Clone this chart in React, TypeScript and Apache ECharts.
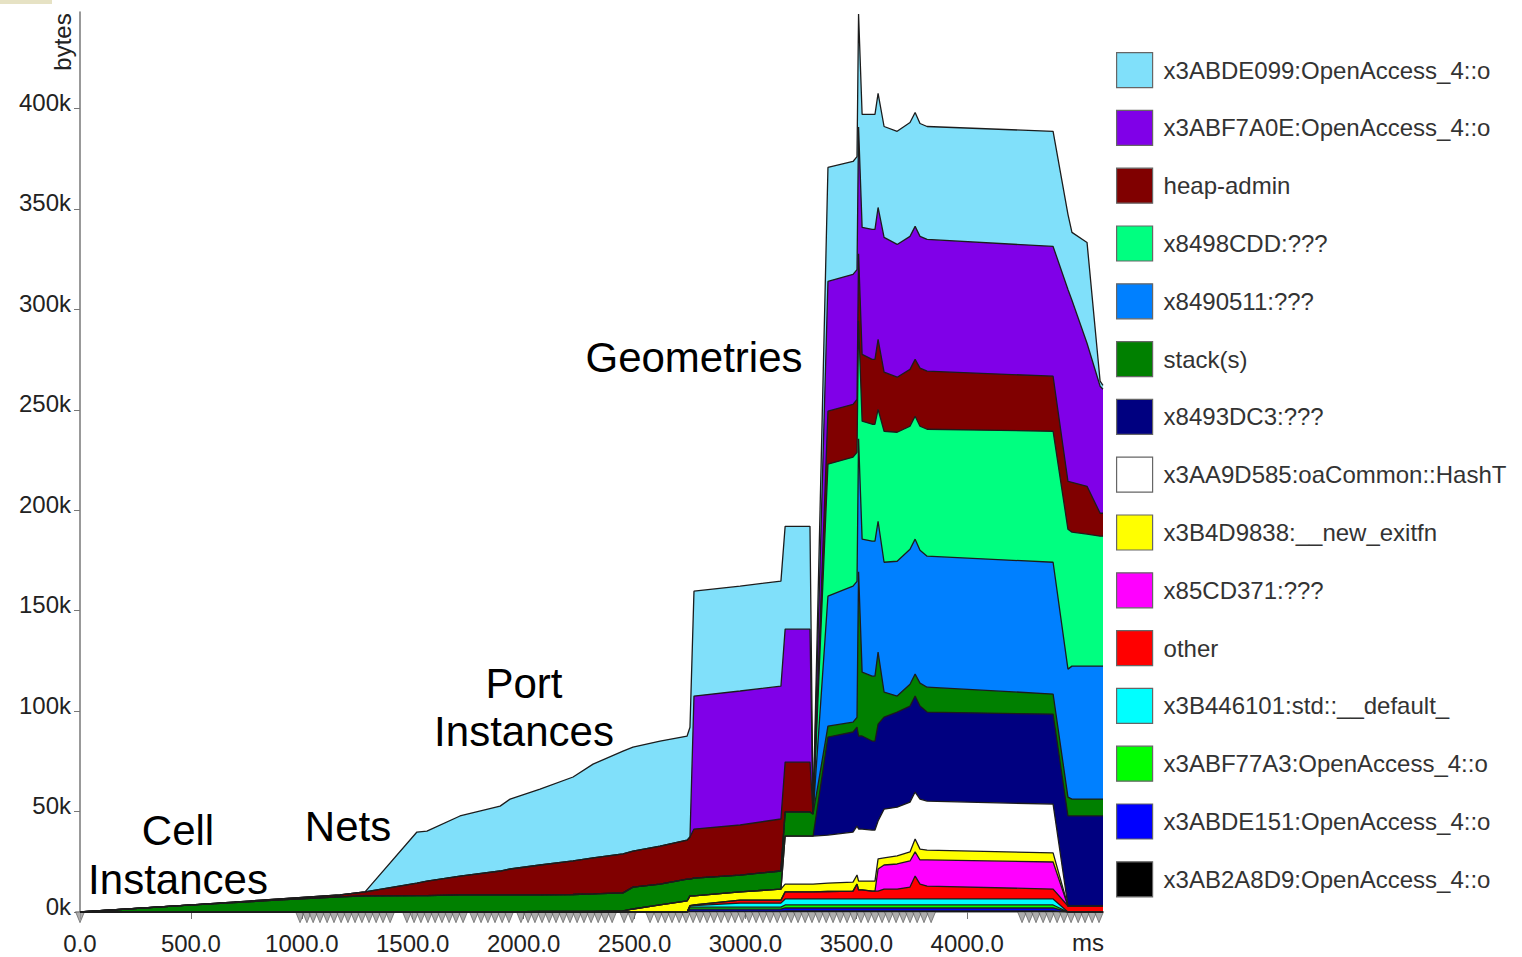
import React, { useEffect, useRef } from "react";
import * as echarts from "echarts";

// sample times (ms)
const times = [0, 451, 902, 1172, 1285, 1519, 1564, 1713, 1894, 1939, 2074, 2223, 2313, 2448, 2493, 2615, 2737, 2750, 2768, 2976, 3160, 3179, 3291, 3305, 3372, 3485, 3503, 3510, 3526, 3571, 3584, 3598, 3625, 3684, 3742, 3765, 3787, 3819, 4387, 4454, 4472, 4540, 4599, 4612];

// layer sizes (kbytes), bottom of the stack first
const v_x3AB2A8D9 = [0, 0, 0, 0, 0, 0, 0, 0, 0, 0, 0, 0, 0, 0, 0, 0, 0, 0.4, 0.4, 0.4, 0.4, 0.5, 0.5, 0.5, 0.5, 0.5, 0.5, 0.5, 0.5, 0.5, 0.5, 0.5, 0.5, 0.5, 0.5, 0.5, 0.5, 0.5, 0.5, 0, 0, 0, 0, 0];
const v_x3ABDE151 = [0, 0, 0, 0, 0, 0, 0, 0, 0, 0, 0, 0, 0, 0, 0, 0, 0, 1.0, 1.0, 1.0, 1.0, 1.5, 1.5, 1.5, 1.5, 1.5, 1.5, 1.5, 1.5, 1.5, 1.5, 1.5, 1.5, 1.5, 1.5, 1.5, 1.5, 1.5, 1.5, 0, 0, 0, 0, 0];
const v_x3ABF77A3 = [0, 0, 0, 0, 0, 0, 0, 0, 0, 0, 0, 0, 0, 0, 0, 0, 0, 1.0, 1.0, 1.0, 1.0, 1.5, 1.5, 1.5, 1.5, 1.5, 1.5, 1.5, 1.5, 1.5, 1.5, 1.5, 1.5, 1.5, 1.5, 1.5, 1.5, 1.5, 1.5, 0, 0, 0, 0, 0];
const v_x3B446101 = [0, 0, 0, 0, 0, 0, 0, 0, 0, 0, 0, 0, 0, 0, 0, 0, 0, 0.5, 0.8, 2.0, 2.0, 3.0, 3.0, 3.0, 3.0, 3.0, 3.0, 3.0, 3.0, 3.0, 3.0, 3.0, 3.0, 3.0, 3.0, 3.0, 3.0, 3.0, 3.0, 0, 0, 0, 0, 0];
const v_other = [0, 0, 0, 0, 0, 0, 0, 0, 0, 0, 0, 0, 0, 0, 0, 0, 0, 0.3, 0.3, 1.5, 1.5, 3.5, 3.5, 3.5, 3.7, 3.9, 7.4, 4.5, 4.5, 3.9, 3.9, 3.9, 4.9, 4.9, 5.9, 11.4, 7.4, 6.4, 4.9, 3.0, 3.0, 3.0, 3.0, 3.0];
const v_x85CD371 = [0, 0, 0, 0, 0, 0, 0, 0, 0, 0, 0, 0, 0, 0, 0, 0, 0, 0, 0, 0, 0, 0, 0, 0, 0, 0, 0, 0, 0, 0, 0, 11.0, 12.0, 12.5, 13.0, 12.0, 12.0, 13.0, 13.5, 0, 0, 0, 0, 0];
const v_x3B4D9838 = [0, 0, 0, 0, 0, 0, 0, 0, 0, 0, 0.25, 0.3, 0.3, 0.5, 1.5, 3.5, 5.5, 4.8, 4.5, 4.1, 5.5, 3.9, 3.9, 3.9, 4.2, 4.5, 4.5, 4.4, 4.4, 5.0, 5.0, 5.0, 3.5, 4.0, 4.5, 6.4, 5.4, 4.9, 4.5, 0, 0, 0, 0, 0];
const v_x3AA9D585 = [0, 0, 0, 0, 0, 0, 0, 0, 0, 0, 0, 0, 0, 0, 0, 0, 0, 0, 0, 0, 0, 23.9, 23.9, 23.9, 23.9, 24.9, 24.4, 25.9, 25.9, 25.4, 25.4, 18.9, 24.3, 24.3, 24.8, 23.4, 24.9, 24.4, 24.3, 0, 0, 0, 0, 0];
const v_x8493DC3 = [0, 0, 0, 0, 0, 0, 0, 0, 0, 0, 0, 0, 0, 0, 0, 0, 0, 0, 0, 0, 0, 0, 0, 0, 48.8, 49.8, 49.2, 46.3, 46.3, 44.3, 44.3, 48.2, 45.8, 47.3, 47.8, 47.8, 46.3, 44.3, 44.8, 44.8, 44.8, 44.8, 44.8, 44.8];
const v_stack = [0, 3.2, 6.0, 7.5, 8.0, 8.2, 8.2, 8.5, 8.5, 8.5, 8.25, 8.4, 8.7, 9.0, 10.9, 10.4, 10.9, 8.4, 8.9, 8.4, 9.0, 12.0, 12.0, 11.0, 5.4, 4.9, 4.9, 81.8, 31.8, 32.3, 32.3, 35.9, 12.5, 8.0, 10.9, 10.9, 11.4, 12.4, 10.0, 9.4, 8.4, 8.4, 8.4, 8.4];
const v_x8490511 = [0, 0, 0, 0, 0, 0, 0, 0, 0, 0, 0, 0, 0, 0, 0, 0, 0, 0, 0, 0, 0, 0, 0, 0, 64.7, 67.7, 67.7, 66.2, 66.2, 67.2, 67.2, 65.1, 64.6, 67.1, 67.2, 67.2, 66.2, 65.2, 65.6, 63.7, 66.2, 66.2, 66.2, 66.2];
const v_x8498CDD = [0, 0, 0, 0, 0, 0, 0, 0, 0, 0, 0, 0, 0, 0, 0, 0, 0, 0, 0, 0, 0, 0, 0, 0, 65.7, 64.2, 64.2, 58.7, 58.7, 58.2, 58.2, 55.7, 65.2, 64.2, 61.2, 61.2, 61.7, 63.2, 65.2, 69.6, 66.7, 65.7, 64.7, 64.7];
const v_heapAdmin = [0, 0, 0.5, 1.0, 2.0, 6.2, 7.2, 9.4, 11.9, 12.9, 14.9, 16.7, 17.9, 19.4, 17.9, 18.9, 19.4, 20.9, 24.4, 24.9, 25.9, 24.8, 24.8, 0.3, 26.4, 26.3, 26.3, 33.3, 33.3, 32.3, 32.3, 34.9, 29.4, 27.4, 28.3, 28.3, 28.9, 28.9, 27.4, 23.9, 24.8, 23.8, 11.4, 11.4];
const v_x3ABF7A0E = [0, 0, 0, 0, 0, 0, 0, 0, 0, 0, 0, 0, 0, 0, 0, 0, 0, 0, 66.2, 66.7, 66.1, 66.2, 66.2, 0.3, 64.6, 64.7, 64.7, 63.2, 63.2, 64.7, 64.7, 65.6, 67.1, 66.1, 66.2, 66.2, 65.6, 65.6, 64.6, 95.5, 90.6, 71.2, 63.2, 61.7];
const v_x3ABDE099 = [0, 0, 0, 0, 0, 25.4, 24.9, 29.9, 32.3, 34.8, 37.8, 41.8, 46.7, 51.2, 51.8, 52.3, 51.8, 54.7, 52.2, 52.2, 52.3, 51.2, 51.2, 0.3, 56.7, 56.2, 56.2, 56.2, 56.2, 57.2, 57.2, 56.8, 55.2, 56.3, 56.7, 56.7, 56.2, 56.2, 57.3, 37.4, 33.8, 50.2, 2.5, 2.0];

// snapshot markers along the time axis (ms)
const markerTimes = [0, 992, 1023, 1051, 1082, 1114, 1145, 1177, 1208, 1240, 1271, 1303, 1335, 1366, 1398, 1474, 1506, 1537, 1569, 1601, 1632, 1664, 1695, 1727, 1776, 1808, 1839, 1871, 1903, 1934, 1988, 2020, 2051, 2083, 2115, 2146, 2178, 2209, 2241, 2272, 2304, 2336, 2367, 2399, 2453, 2489, 2570, 2606, 2638, 2669, 2701, 2732, 2764, 2795, 2827, 2858, 2890, 2922, 2953, 2985, 3016, 3048, 3079, 3111, 3143, 3174, 3206, 3237, 3269, 3300, 3332, 3364, 3395, 3427, 3458, 3490, 3521, 3553, 3584, 3616, 3647, 3679, 3711, 3742, 3774, 3805, 3837, 4247, 4279, 4310, 4342, 4373, 4405, 4436, 4468, 4500, 4531, 4563, 4594];

const xTicks = [0, 500, 1000, 1500, 2000, 2500, 3000, 3500, 4000];
const yTicks = [0, 50, 100, 150, 200, 250, 300, 350, 400];

const layers = [
  { name: "x3AB2A8D9:OpenAccess_4::o", color: "#000000", values: v_x3AB2A8D9 },
  { name: "x3ABDE151:OpenAccess_4::o", color: "#0000ff", values: v_x3ABDE151 },
  { name: "x3ABF77A3:OpenAccess_4::o", color: "#00ff00", values: v_x3ABF77A3 },
  { name: "x3B446101:std::__default_", color: "#00ffff", values: v_x3B446101 },
  { name: "other", color: "#ff0000", values: v_other },
  { name: "x85CD371:???", color: "#ff00ff", values: v_x85CD371 },
  { name: "x3B4D9838:__new_exitfn", color: "#ffff00", values: v_x3B4D9838 },
  { name: "x3AA9D585:oaCommon::HashT", color: "#ffffff", values: v_x3AA9D585 },
  { name: "x8493DC3:???", color: "#000080", values: v_x8493DC3 },
  { name: "stack(s)", color: "#008000", values: v_stack },
  { name: "x8490511:???", color: "#0080ff", values: v_x8490511 },
  { name: "x8498CDD:???", color: "#00ff80", values: v_x8498CDD },
  { name: "heap-admin", color: "#800000", values: v_heapAdmin },
  { name: "x3ABF7A0E:OpenAccess_4::o", color: "#8000e8", values: v_x3ABF7A0E },
  { name: "x3ABDE099:OpenAccess_4::o", color: "#80e0fa", values: v_x3ABDE099 },
];

const FONT = "'Liberation Sans', Arial, Helvetica, sans-serif";

function buildOption() {
  // running totals: each band is drawn from the axis up to the sum of itself and the bands below it;
  // upper bands are drawn first, so each lower band covers the part below its own top.
  let running = times.map(() => 0);
  const tops = layers.map((l) => {
    running = running.map((s, i) => s + l.values[i]);
    return running;
  });

  const series: any[] = [];
  for (let k = layers.length - 1; k >= 0; k--) {
    const l = layers[k];
    series.push({
      name: l.name,
      type: "line",
      data: times.map((t, i) => [t, Math.round(tops[k][i] * 100) / 100]),
      showSymbol: false,
      symbol: "none",
      silent: true,
      emphasis: { disabled: true },
      lineStyle: { color: "#1c1c1c", width: 1.3 },
      itemStyle: { color: l.color },
      areaStyle: { color: l.color, opacity: 1, origin: "start" },
    });
  }
  series.push({
    name: "snapshots",
    type: "scatter",
    data: markerTimes.map((t) => [t, -2.6]),
    symbol: "triangle",
    symbolRotate: 180,
    symbolSize: [9, 11],
    clip: false,
    silent: true,
    itemStyle: { color: "#9a9a9a", borderColor: "#444", borderWidth: 0.7 },
    z: 1,
  });

  return {
    animation: false,
    backgroundColor: "#ffffff",
    textStyle: { fontFamily: FONT },
    grid: { left: 80, top: 12, width: 1023, height: 900, containLabel: false },
    xAxis: {
      type: "value",
      min: 0,
      max: 4612,
      interval: 500,
      axisLine: { show: true, lineStyle: { color: "#777", width: 1.5 } },
      axisTick: { show: true, length: 7, lineStyle: { color: "#777" }, customValues: xTicks },
      axisLabel: {
        customValues: xTicks,
        formatter: (v: number) => (v % 500 === 0 && v <= 4000 ? v.toFixed(1) : ""),
        color: "#222",
        fontSize: 24,
        fontFamily: FONT,
        margin: 19,
      },
      splitLine: { show: false },
    },
    yAxis: {
      type: "value",
      min: 0,
      max: 448,
      interval: 50,
      axisLine: { show: true, lineStyle: { color: "#777", width: 1.5 } },
      axisTick: { show: true, length: 6, lineStyle: { color: "#777" }, customValues: yTicks },
      axisLabel: {
        customValues: yTicks,
        formatter: (v: number) => (v % 50 === 0 && v <= 400 ? v + "k" : ""),
        color: "#222",
        fontSize: 24,
        fontFamily: FONT,
        margin: 9,
        verticalAlign: "bottom",
        lineHeight: 12,
      },
      splitLine: { show: false },
    },
    legend: {
      orient: "vertical",
      left: 1111,
      top: 47,
      itemWidth: 36,
      itemHeight: 35,
      itemGap: 21.6,
      icon: "rect",
      selectedMode: false,
      textStyle: { fontSize: 24, color: "#333", fontFamily: FONT, padding: [0, 0, 0, 6] },
      data: layers
        .slice()
        .reverse()
        .map((l) => ({ name: l.name, itemStyle: { color: l.color, borderColor: "#666", borderWidth: 1.2 } })),
    },
    graphic: [
      { type: "rect", left: 0, top: 0, shape: { width: 52, height: 4 }, style: { fill: "#e6e2c4" }, silent: true },
      {
        type: "text",
        x: 62,
        y: 42,
        rotation: Math.PI / 2,
        style: { text: "bytes", fill: "#222", font: `24px ${FONT}`, align: "center", verticalAlign: "middle" },
        silent: true,
      },
      {
        type: "text",
        x: 1088,
        y: 942,
        style: { text: "ms", fill: "#222", font: `24px ${FONT}`, align: "center", verticalAlign: "middle" },
        silent: true,
      },
      {
        type: "text",
        x: 694,
        y: 357,
        style: { text: "Geometries", fill: "#000", font: `42px ${FONT}`, align: "center", verticalAlign: "middle" },
        silent: true,
      },
      {
        type: "text",
        x: 524,
        y: 707,
        style: { text: "Port\nInstances", fill: "#000", font: `42px ${FONT}`, align: "center", verticalAlign: "middle", lineHeight: 48 },
        silent: true,
      },
      {
        type: "text",
        x: 348,
        y: 826,
        style: { text: "Nets", fill: "#000", font: `42px ${FONT}`, align: "center", verticalAlign: "middle" },
        silent: true,
      },
      {
        type: "text",
        x: 178,
        y: 855,
        style: { text: "Cell\nInstances", fill: "#000", font: `42px ${FONT}`, align: "center", verticalAlign: "middle", lineHeight: 49 },
        silent: true,
      },
    ],
    series,
  };
}

export default function App() {
  const ref = useRef<HTMLDivElement>(null);
  useEffect(() => {
    if (!ref.current) return;
    const chart = echarts.init(ref.current, null, { renderer: "svg" });
    chart.setOption(buildOption() as any);
    return () => chart.dispose();
  }, []);
  return (
    <div
      ref={ref}
      style={{ position: "absolute", left: 0, top: 0, width: 1522, height: 957, background: "#fff" }}
    />
  );
}
